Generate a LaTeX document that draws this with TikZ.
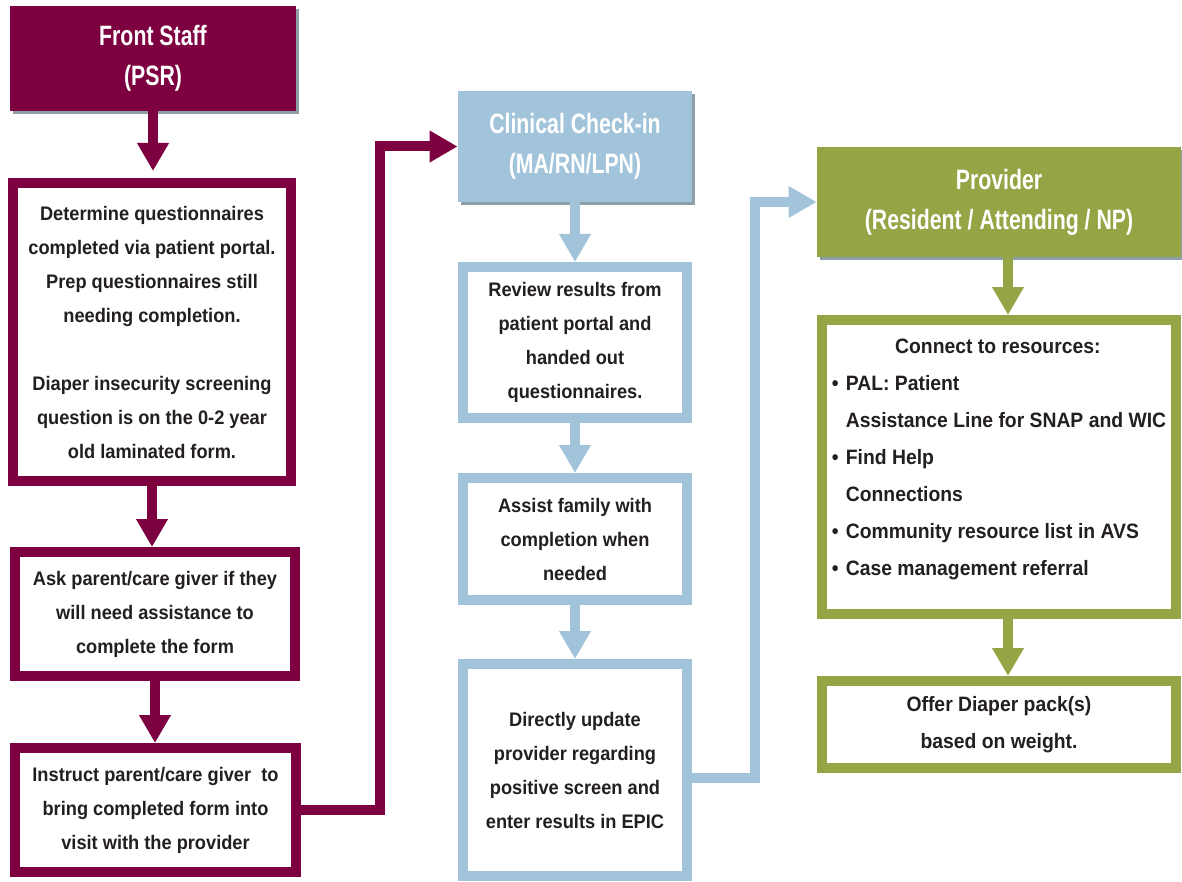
\documentclass[tikz,border=0pt]{standalone}
\usepackage{fontspec}
\setmainfont{Liberation Sans}[FakeStretch=0.93]
\newfontfamily\hdrfont{Liberation Sans}[FakeStretch=0.76]
\usetikzlibrary{arrows.meta,shadows}
\definecolor{psrred}{RGB}{125,0,64}
\definecolor{clinblue}{RGB}{162,196,218}
\definecolor{provgreen}{RGB}{149,164,68}
\definecolor{shade}{RGB}{142,159,168}
\definecolor{ink}{RGB}{35,31,32}
\begin{document}
\begin{tikzpicture}[x=0.5pt,y=-0.5pt,>={Triangle[length=14pt,width=15pt]},
  hdr/.style={fill=#1,text=white,align=center,inner sep=0pt,
    drop shadow={shadow xshift=1.5pt,shadow yshift=-1.5pt,fill=shade,opacity=1},
    font=\hdrfont\fontsize{14}{20}\selectfont\bfseries},
  box/.style={draw=#1,line width=5pt,fill=white,align=center,inner sep=0pt,text=ink,
    font=\fontsize{9.8}{17}\selectfont\bfseries},
  bigbox/.style={box=#1,font=\fontsize{10.4}{18.5}\selectfont\bfseries},
  flow/.style={draw=#1,line width=5pt,->}]
\useasboundingbox (0,0) rectangle (1182,882);
% front staff
\node[hdr=psrred,minimum width=143pt,minimum height=52.5pt] (psr) at (153,58.5) {Front Staff\\(PSR)};
\node[box=psrred,minimum width=139pt,minimum height=149pt] (portal) at (152,332)
  {Determine questionnaires\\completed via patient portal.\\Prep questionnaires still\\needing completion.\\[17pt]
   Diaper insecurity screening\\question is on the 0-2 year\\old laminated form.};
\node[box=psrred,minimum width=140pt,minimum height=62pt] (ask) at (155,614)
  {Ask parent/care giver if they\\will need assistance to\\complete the form};
\node[box=psrred,minimum width=140.5pt,minimum height=62pt] (instr) at (155.5,810)
  {Instruct parent/care giver~ to\\bring completed form into\\visit with the provider};
% clinical check-in
\node[hdr=clinblue,minimum width=117pt,minimum height=55.5pt] (chk) at (575,146.5) {Clinical Check-in\\(MA/RN/LPN)};
\node[box=clinblue,minimum width=112pt,minimum height=75.5pt] (review) at (575,342.5)
  {Review results from\\patient portal and\\handed out\\questionnaires.};
\node[box=clinblue,minimum width=112pt,minimum height=61pt] (assist) at (575,539)
  {Assist family with\\completion when\\needed};
\node[box=clinblue,minimum width=112pt,minimum height=106pt] (update) at (575,770)
  {Directly update\\provider regarding\\positive screen and\\enter results in EPIC};
% provider
\node[hdr=provgreen,minimum width=182pt,minimum height=55pt] (prov) at (999,202) {Provider\\(Resident / Attending / NP)};
\node[bigbox=provgreen,minimum width=177pt,minimum height=147pt,align=left] (res) at (999,467)
  {\makebox[166pt]{Connect to resources:}\\
   \makebox[7pt][l]{\textbullet}PAL: Patient\\
   \hspace*{7pt}Assistance Line for SNAP and WIC\\
   \makebox[7pt][l]{\textbullet}Find Help\\
   \hspace*{7pt}Connections\\
   \makebox[7pt][l]{\textbullet}Community resource list in AVS\\
   \makebox[7pt][l]{\textbullet}Case management referral\\[-9pt]~};
\node[bigbox=provgreen,minimum width=177pt,minimum height=43.5pt] (diaper) at (999,724.5)
  {Offer Diaper pack(s)\\based on weight.};
% arrows
\draw[flow=psrred,shorten >=3.5pt] (psr.south) -- (psr.south |- portal.north);
\draw[flow=psrred] (portal.south) -- (portal.south |- ask.north);
\draw[flow=psrred] (ask.south) -- (ask.south |- instr.north);
\draw[flow=psrred] (instr.east) -- ++(79,0) |- (chk.west);
\draw[flow=clinblue] (chk.south) -- (chk.south |- review.north);
\draw[flow=clinblue] (review.south) -- (review.south |- assist.north);
\draw[flow=clinblue] (assist.south) -- (assist.south |- update.north);
\draw[flow=clinblue] ([yshift=-4pt]update.east) -- ++(63,0) |- (prov.west);
\draw[flow=provgreen] ([xshift=4.5pt]prov.south) -- ([xshift=4.5pt]prov.south |- res.north);
\draw[flow=provgreen] ([xshift=4.5pt]res.south) -- ([xshift=4.5pt]res.south |- diaper.north);
\end{tikzpicture}
\end{document}
